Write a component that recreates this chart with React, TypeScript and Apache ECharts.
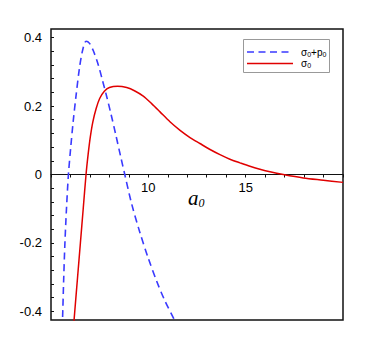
import React, { useEffect, useRef } from "react";
import * as echarts from "echarts";

const sigmaPlusP: [number, number][] = [
  [5.58, -0.45], [5.605, -0.4], [5.655, -0.3], [5.715, -0.2], [5.795, -0.1],
  [5.895, 0], [6.01, 0.077], [6.14, 0.155], [6.29, 0.232], [6.46, 0.31],
  [6.62, 0.362], [6.8, 0.389], [6.98, 0.383], [7.17, 0.362], [7.43, 0.32],
  [7.63, 0.278], [7.86, 0.228], [8.08, 0.177], [8.32, 0.118], [8.58, 0.052],
  [8.79, 0], [9.14, -0.085], [9.57, -0.17], [10.0, -0.245], [10.43, -0.312],
  [10.86, -0.37], [11.28, -0.418], [11.34, -0.425],
];

const sigma: [number, number][] = [
  [6.15, -0.45], [6.22, -0.4], [6.365, -0.3], [6.51, -0.2], [6.655, -0.1],
  [6.8, 0], [6.91, 0.06], [7.02, 0.11], [7.15, 0.154], [7.32, 0.193],
  [7.5, 0.222], [7.74, 0.243], [8.0, 0.254], [8.42, 0.258], [8.89, 0.254],
  [9.31, 0.244], [9.74, 0.229], [10.17, 0.207], [10.6, 0.183], [11.11, 0.154],
  [11.63, 0.129], [12.14, 0.108], [12.65, 0.0905], [13.17, 0.073], [13.68, 0.058],
  [14.19, 0.0447], [14.71, 0.034], [15.22, 0.024], [15.73, 0.0155], [16.25, 0.008],
  [16.93, 0], [17.96, -0.01], [18.99, -0.0166], [20.0, -0.023],
];

const yLabelValues = [-0.4, -0.2, 0, 0.2, 0.4];
const yTickValues = [
  -0.4, -0.36, -0.32, -0.28, -0.24, -0.2, -0.16, -0.12, -0.08, -0.04, 0,
  0.04, 0.08, 0.12, 0.16, 0.2, 0.24, 0.28, 0.32, 0.36, 0.4,
];
const xLabelValues = [10, 15];

const BLUE = "#3a3aff";
const RED = "#e00000";

export default function App() {
  const ref = useRef<HTMLDivElement>(null);
  useEffect(() => {
    if (!ref.current) return;
    const chart = echarts.init(ref.current, null, { renderer: "svg" });
    const sub = { fontSize: 7, fontFamily: "Liberation Sans", color: "#000", verticalAlign: "bottom", padding: [4, 0, 0, 0] };
    const main = { fontSize: 10, fontFamily: "Liberation Sans", color: "#000" };
    chart.setOption({
      animation: false,
      backgroundColor: "#fff",
      grid: {
        left: 51, right: 47, top: 29, bottom: 28,
        show: true, borderColor: "#111", borderWidth: 1.5, backgroundColor: "transparent",
      },
      xAxis: {
        type: "value", min: 5, max: 20, interval: 1,
        offset: -145.5,
        axisLine: { show: true, onZero: false, lineStyle: { color: "#111", width: 1.2 } },
        axisTick: { show: true, inside: false, length: 3, lineStyle: { color: "#111", width: 1 } },
        axisLabel: {
          customValues: xLabelValues, margin: 6, fontSize: 13,
          fontFamily: "Liberation Sans", color: "#000",
        },
        splitLine: { show: false },
      },
      yAxis: {
        type: "value", min: -0.425, max: 0.425,
        axisLine: { show: false },
        axisTick: {
          show: true, inside: true, length: 3, customValues: yTickValues,
          lineStyle: { color: "#111" },
        },
        axisLabel: {
          customValues: yLabelValues, margin: 9, fontSize: 13,
          fontFamily: "Liberation Sans", color: "#000",
        },
        splitLine: { show: false },
      },
      series: [
        {
          name: "σ0+p0", type: "line", data: sigmaPlusP, showSymbol: false, smooth: 0.3,
          lineStyle: { color: BLUE, width: 1.6, type: [7, 4.5] }, clip: true,
        },
        {
          name: "σ0", type: "line", data: sigma, showSymbol: false, smooth: 0.3,
          lineStyle: { color: RED, width: 1.5 }, clip: true,
        },
      ],
      graphic: [
        {
          type: "rect", shape: { x: 243.5, y: 39.5, width: 86, height: 33 },
          style: { fill: "#fff", stroke: "#999", lineWidth: 1 }, z: 100,
        },
        {
          type: "line", shape: { x1: 247, y1: 52, x2: 293, y2: 52 },
          style: { stroke: BLUE, lineWidth: 1.6, lineDash: [7, 4.5] }, z: 101,
        },
        {
          type: "line", shape: { x1: 247, y1: 63.5, x2: 293, y2: 63.5 },
          style: { stroke: RED, lineWidth: 1.5 }, z: 101,
        },
        {
          type: "text", x: 301, y: 52, z: 101,
          style: {
            text: "{m|σ}{s|0}{m|+p}{s|0}", verticalAlign: "middle",
            rich: { m: main, s: sub },
          },
        },
        {
          type: "text", x: 301, y: 63.5, z: 101,
          style: {
            text: "{m|σ}{s|0}", verticalAlign: "middle",
            rich: { m: main, s: sub },
          },
        },
        {
          type: "text", x: 188, y: 198, z: 101,
          style: {
            text: "{a|a}{s|0}", verticalAlign: "middle",
            rich: {
              a: { fontSize: 21, fontStyle: "italic", fontFamily: "Liberation Serif", color: "#000" },
              s: { fontSize: 12, fontStyle: "italic", fontFamily: "Liberation Serif", color: "#000", verticalAlign: "bottom", padding: [8, 0, 0, 0] },
            },
          },
        },
      ],
    });
    return () => chart.dispose();
  }, []);
  return (
    <div
      ref={ref}
      style={{ position: "fixed", left: 0, top: 0, width: 390, height: 348, background: "#fff" }}
    />
  );
}
